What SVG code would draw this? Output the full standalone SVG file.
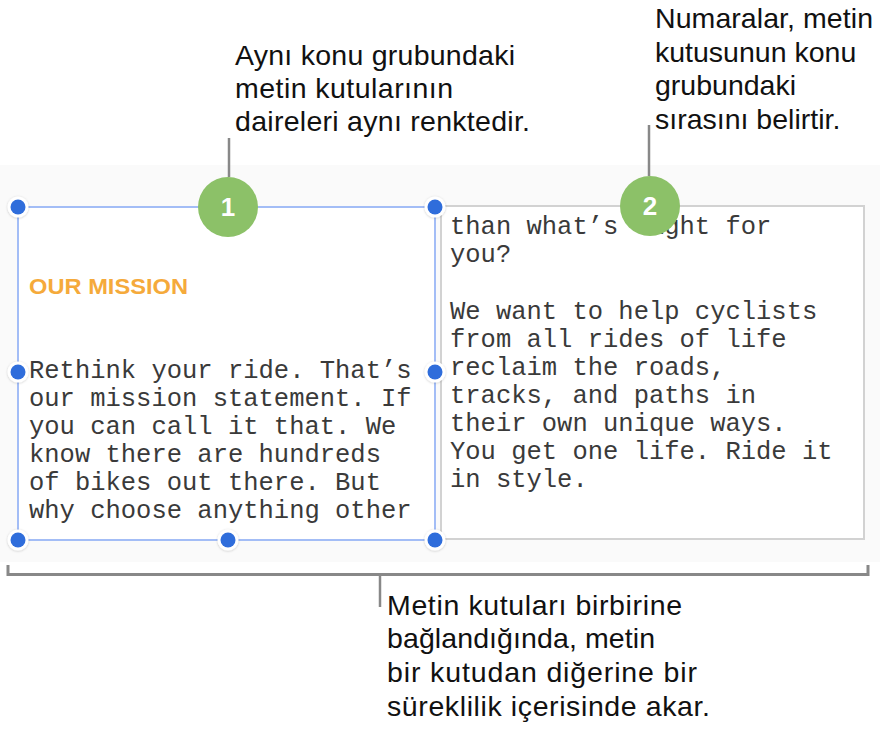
<svg xmlns="http://www.w3.org/2000/svg" width="886" height="737" viewBox="0 0 886 737">
<defs>
<style>
.lbl{font-family:"Liberation Sans",Arial,sans-serif;font-size:28.5px;fill:#111}
.mono{font-family:"Liberation Mono","Courier New",monospace;font-size:25.5px;fill:#3a3a3a}
.lead{stroke:#888;stroke-width:2.5;fill:none}
.num{font-family:"Liberation Sans",Arial,sans-serif;font-size:26px;font-weight:bold;fill:#fff;text-anchor:middle}
.badge{fill:#8cc168}
</style>
<filter id="sh" x="-50%" y="-50%" width="200%" height="200%">
<feDropShadow dx="0" dy="0.5" stdDeviation="1" flood-color="#000" flood-opacity="0.22"/>
</filter>
<g id="handle">
<circle r="10.5" fill="#fff" filter="url(#sh)"/>
<circle r="7.5" fill="#2f6ddb"/>
</g>
</defs>
<rect width="886" height="737" fill="#fff"/>
<rect x="0" y="165" width="880" height="397" fill="#fafafa"/>

<g id="box2">
<rect x="441" y="206" width="423" height="333" fill="#fff" stroke="#d2d2d2" stroke-width="2"/>
<text class="mono" x="450" y="234">than what’s light for</text>
<text class="mono" x="450" y="262">you?</text>
<text class="mono" x="450" y="319">We want to help cyclists</text>
<text class="mono" x="450" y="347">from all rides of life</text>
<text class="mono" x="450" y="375">reclaim the roads,</text>
<text class="mono" x="450" y="403">tracks, and paths in</text>
<text class="mono" x="450" y="431">their own unique ways.</text>
<text class="mono" x="450" y="459">You get one life. Ride it</text>
<text class="mono" x="450" y="487">in style.</text>
</g>

<g id="box1">
<rect x="18" y="207" width="417" height="333" fill="#fff" stroke="#a3bdf6" stroke-width="2"/>
<text x="29" y="294" font-family="Liberation Sans,Arial,sans-serif" font-weight="bold" font-size="22" fill="#f5aa3b" textLength="159" lengthAdjust="spacingAndGlyphs">OUR MISSION</text>
<text class="mono" x="29" y="378">Rethink your ride. That’s</text>
<text class="mono" x="29" y="406">our mission statement. If</text>
<text class="mono" x="29" y="434">you can call it that. We</text>
<text class="mono" x="29" y="462">know there are hundreds</text>
<text class="mono" x="29" y="490">of bikes out there. But</text>
<text class="mono" x="29" y="518">why choose anything other</text>
<use href="#handle" x="18" y="207"/>
<use href="#handle" x="435" y="207"/>
<use href="#handle" x="18" y="372"/>
<use href="#handle" x="435" y="372"/>
<use href="#handle" x="18" y="540"/>
<use href="#handle" x="228" y="540"/>
<use href="#handle" x="435" y="540"/>
</g>

<g id="badge1">
<circle class="badge" cx="228" cy="207" r="30"/>
<text class="num" x="228" y="216">1</text>
</g>
<g id="badge2">
<circle class="badge" cx="650" cy="206" r="30"/>
<text class="num" x="650" y="215">2</text>
</g>

<g id="connectors">
<line class="lead" x1="229" y1="138" x2="229" y2="177"/>
<line class="lead" x1="649" y1="125" x2="649" y2="176"/>
<polyline points="8,565 8,574.5 868,574.5 868,565" fill="none" stroke="#888" stroke-width="3"/>
<line class="lead" x1="380" y1="576" x2="380" y2="607"/>
</g>

<g id="label1">
<text class="lbl" x="235" y="65" textLength="280">Aynı konu grubundaki</text>
<text class="lbl" x="235" y="98" textLength="218">metin kutularının</text>
<text class="lbl" x="235" y="131" textLength="295">daireleri aynı renktedir.</text>
</g>
<g id="label2">
<text class="lbl" x="655" y="28" textLength="218">Numaralar, metin</text>
<text class="lbl" x="655" y="62">kutusunun konu</text>
<text class="lbl" x="655" y="95">grubundaki</text>
<text class="lbl" x="655" y="129">sırasını belirtir.</text>
</g>
<g id="label3">
<text class="lbl" x="387" y="615" textLength="295">Metin kutuları birbirine</text>
<text class="lbl" x="387" y="648" textLength="268">bağlandığında, metin</text>
<text class="lbl" x="387" y="682" textLength="310">bir kutudan diğerine bir</text>
<text class="lbl" x="387" y="716" textLength="323">süreklilik içerisinde akar.</text>
</g>
</svg>
